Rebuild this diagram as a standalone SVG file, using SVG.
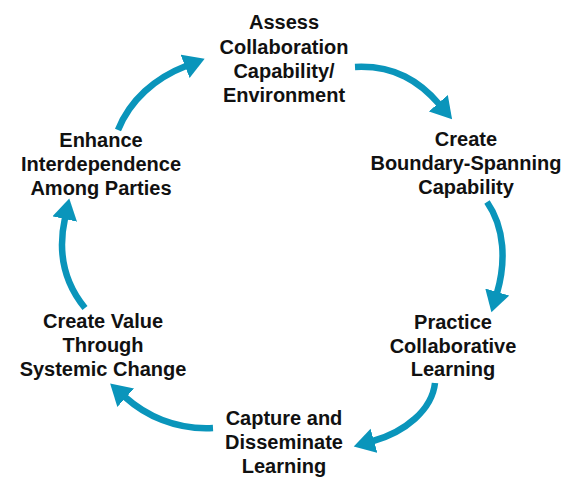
<svg xmlns="http://www.w3.org/2000/svg" width="579" height="478" viewBox="0 0 579 478">
<defs>
<style>
.lbl{font-family:"Liberation Sans",Arial,sans-serif;font-size:20px;font-weight:bold;fill:#111;text-anchor:middle}
.arr{fill:none;stroke:#0a95bb;stroke-width:6.5;stroke-linecap:butt;marker-end:url(#head)}
</style>
<marker id="head" markerUnits="userSpaceOnUse" markerWidth="22" markerHeight="26" refX="1" refY="12.5" orient="auto">
<path d="M0,0 L21,12.5 L0,25 z" fill="#0a95bb"/>
</marker>
</defs>
<rect width="579" height="478" fill="#fff"/>
<g id="connectors">
<path class="arr" d="M355,67 C395,65 420,82 439,104"/>
<path class="arr" d="M487,202 C505,228 506,262 497,293"/>
<path class="arr" d="M435,383 C432,410 405,432 373,441"/>
<path class="arr" d="M213,428 C175,430 145,415 125,397"/>
<path class="arr" d="M85,308 C62,280 58,250 65,218"/>
<path class="arr" d="M118,130 C130,100 155,78 186,66"/>
</g>
<g id="node-assess">
<text class="lbl" x="284" y="29">Assess</text>
<text class="lbl" x="284" y="54">Collaboration</text>
<text class="lbl" x="284" y="78">Capability/</text>
<text class="lbl" x="284" y="102">Environment</text>
</g>
<g id="node-boundary">
<text class="lbl" x="466" y="146">Create</text>
<text class="lbl" x="466" y="170">Boundary-Spanning</text>
<text class="lbl" x="466" y="194">Capability</text>
</g>
<g id="node-practice">
<text class="lbl" x="453" y="329">Practice</text>
<text class="lbl" x="453" y="353">Collaborative</text>
<text class="lbl" x="453" y="376">Learning</text>
</g>
<g id="node-capture">
<text class="lbl" x="284" y="425">Capture and</text>
<text class="lbl" x="284" y="449">Disseminate</text>
<text class="lbl" x="284" y="473">Learning</text>
</g>
<g id="node-value">
<text class="lbl" x="103" y="328">Create Value</text>
<text class="lbl" x="103" y="352">Through</text>
<text class="lbl" x="103" y="376">Systemic Change</text>
</g>
<g id="node-enhance">
<text class="lbl" x="101" y="147">Enhance</text>
<text class="lbl" x="101" y="171">Interdependence</text>
<text class="lbl" x="101" y="195">Among Parties</text>
</g>
</svg>
